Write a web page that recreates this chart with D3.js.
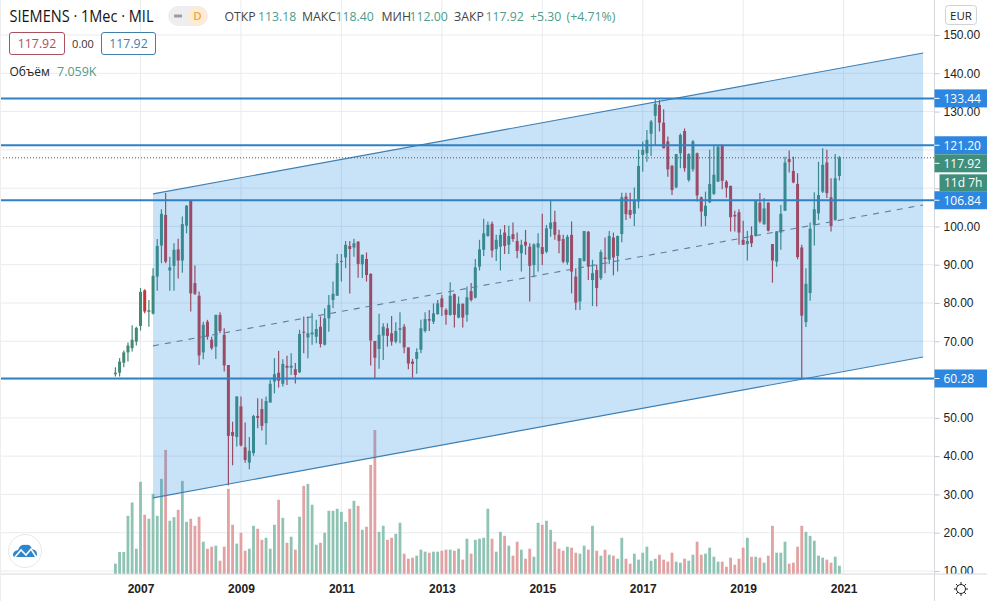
<!DOCTYPE html>
<html>
<head>
<meta charset="utf-8">
<script src="https://cdn.jsdelivr.net/npm/d3@7"></script>
<style>
  html, body { margin: 0; padding: 0; background: #fff; }
  svg { display: block; font-family: "Open Sans", sans-serif; }
</style>
</head>
<body>
<svg id="chart" width="987" height="601"></svg>
<script>
// monthly candles, Jul 2006 - Dec 2020
const opens = [
  61.4,61.8,64.4,67.1,68.2,69.9,74.0,83.3,77.7,77.2,
  86.9,95.0,103.0,88.5,89.7,94.0,91.1,100.2,106.7,85.2,
  81.9,67.1,75.1,70.4,68.6,76.9,71.7,63.8,46.3,45.0,
  53.0,42.3,38.3,40.8,50.5,52.3,48.6,54.0,59.5,61.8,
  58.9,63.6,63.1,62.7,61.9,72.5,71.0,71.8,71.2,73.8,
  69.1,76.0,80.8,81.9,90.7,91.9,94.9,94.5,96.0,90.1,
  91.5,87.6,70.1,68.0,71.5,73.4,72.1,69.9,73.0,73.8,
  68.4,64.7,65.4,67.8,72.7,75.8,75.1,77.1,81.2,78.2,
  76.9,82.3,76.2,79.8,76.9,83.1,81.4,89.5,93.9,97.5,
  100.7,94.1,94.7,98.4,95.2,98.0,96.2,93.0,96.0,94.7,
  89.9,94.5,94.6,93.4,99.4,101.2,97.8,96.7,90.6,97.8,
  86.9,80.4,91.0,98.6,86.0,88.6,86.5,91.9,91.3,97.1,
  92.3,98.0,107.8,104.3,103.3,106.5,118.7,119.1,124.2,128.9,
  131.7,127.1,122.2,115.8,110.2,119.1,124.9,112.1,114.9,119.1,
  107.6,102.7,106.3,108.5,111.7,121.3,111.7,110.6,103.0,103.7,
  96.5,95.4,97.7,97.5,106.2,100.6,106.2,95.4,90.8,98.4,
  104.1,117.6,114.5,111.1,94.5,75.0,82.6,100.4,103.4,109.1,
  116.7,107.6,101.7,113.18
];
const closes = [
  61.8,64.7,67.1,68.9,70.4,73.5,82.9,77.8,78.1,87.1,
  94.9,103.3,90.8,89.3,93.9,91.1,100.6,105.4,82.5,82.4,
  66.3,74.3,71.2,68.2,76.9,72.7,63.7,45.3,45.3,55.6,
  42.8,39.0,41.4,50.5,50.0,47.9,54.4,58.9,61.4,59.7,
  64.1,63.1,63.6,61.2,71.9,72.3,72.1,72.3,73.2,69.3,
  76.0,79.5,82.4,90.4,91.0,95.2,94.1,95.6,90.2,92.6,
  87.3,70.2,65.7,71.7,73.8,71.4,69.9,72.7,73.4,68.4,
  64.2,64.1,67.2,73.4,75.8,75.4,77.3,79.9,78.9,76.9,
  81.9,76.9,79.8,76.2,81.5,80.8,89.3,94.0,98.2,100.4,
  93.7,96.5,97.8,94.9,97.5,96.7,93.6,95.2,95.0,89.7,
  95.3,95.6,92.8,99.5,101.0,97.8,96.2,90.8,97.3,88.2,
  80.1,91.7,98.8,89.5,87.8,83.9,93.3,91.5,97.5,91.9,
  97.5,107.6,103.2,103.0,106.7,115.8,120.0,122.6,127.4,132.0,
  127.1,120.4,114.9,109.5,118.9,123.9,115.2,118.9,122.2,108.1,
  103.9,105.4,111.1,113.5,120.8,111.9,110.1,102.4,102.6,98.4,
  95.2,96.2,95.6,106.7,101.3,104.7,98.9,91.1,98.7,103.3,
  116.7,116.8,111.5,92.0,76.7,85.0,99.4,104.5,108.2,116.1,
  108.7,100.1,112.6,117.92
];
const highs = [
  63.2,65.6,67.6,69.7,74.2,73.8,83.9,83.6,80.8,89.1,
  96.7,104.5,108.7,92.1,95.6,96.8,102.6,105.6,106.7,89.8,
  83.0,75.1,75.6,71.2,76.9,77.6,73.4,63.8,49.0,55.6,
  55.6,48.8,45.0,50.8,55.1,55.0,55.6,59.9,65.6,67.5,
  65.3,66.2,66.9,64.3,73.0,76.5,76.5,77.3,75.6,76.5,
  78.6,82.1,85.6,92.8,92.8,96.2,96.2,96.8,96.2,92.6,
  93.2,87.8,70.1,77.2,74.7,74.7,76.6,75.0,77.6,74.5,
  68.4,65.4,68.2,75.6,77.6,78.2,79.9,80.8,82.1,78.6,
  85.4,82.5,81.7,79.9,84.3,85.2,91.5,96.5,102.0,101.3,
  101.3,97.8,99.3,100.4,100.2,101.0,98.4,96.5,99.1,95.6,
  95.6,98.2,103.3,100.4,106.9,104.1,99.1,97.8,97.8,101.3,
  89.1,91.7,98.8,98.8,91.3,90.0,93.9,97.1,98.8,98.4,
  97.6,108.8,108.8,108.8,110.2,120.0,122.2,125.2,127.8,133.2,
  133.0,130.6,123.5,116.1,118.9,124.3,125.6,119.1,122.6,119.3,
  107.8,109.1,120.0,121.3,121.3,121.3,112.1,110.6,104.1,104.5,
  101.5,98.9,100.0,106.9,108.7,107.4,106.3,95.4,98.8,105.6,
  118.2,119.8,118.2,113.9,95.2,89.1,101.0,108.9,116.9,120.4,
  120.0,112.6,118.9,118.40
];
const lows = [
  60.8,60.8,63.2,64.7,67.3,68.9,72.8,77.3,73.8,77.0,
  83.2,90.4,90.4,83.2,83.2,86.4,87.9,98.2,77.8,82.1,
  63.8,65.3,70.4,67.8,65.4,72.1,62.1,32.3,37.6,42.5,
  42.5,38.3,36.6,40.1,47.3,46.7,43.0,54.0,56.4,57.9,
  58.2,58.6,61.2,59.0,61.7,66.9,65.6,69.1,69.5,68.4,
  68.9,72.5,78.6,81.9,85.6,89.1,82.5,92.1,86.6,86.5,
  85.6,63.7,60.4,62.8,65.1,68.6,68.9,69.5,69.5,66.9,
  62.7,60.5,61.5,66.9,72.3,72.7,74.5,76.9,76.6,74.3,
  76.7,73.6,76.0,73.6,75.1,80.4,81.2,88.5,92.3,97.3,
  91.9,91.0,88.5,92.8,92.8,96.0,91.7,88.2,92.6,80.4,
  86.7,88.2,89.9,93.0,97.3,96.5,93.0,90.4,90.0,82.5,
  78.2,78.2,90.8,86.0,79.2,79.1,86.0,87.8,90.2,87.2,
  88.2,95.9,101.7,102.1,100.1,104.7,114.3,116.9,118.4,121.3,
  124.8,120.4,113.0,108.2,110.0,115.2,114.3,111.7,114.3,106.5,
  100.0,100.1,106.1,108.2,111.7,109.7,107.5,98.7,98.7,95.2,
  95.2,91.1,94.6,97.4,100.8,100.4,98.7,85.3,89.5,93.9,
  104.1,114.1,111.3,91.4,60.4,73.7,80.6,95.0,101.7,108.7,
  107.4,98.7,101.5,112.00
];
// volume in thousands
const volumes = [
  8.8,18.7,18.7,49.5,60.8,21.5,78.4,50.4,47,68.2,
  49.5,80.9,105.6,45.3,48.4,54.6,79.2,44.4,47,41,
  48.7,27.5,21.5,23.2,24.1,11.3,23.2,72.4,41.9,25.8,
  35.1,19.8,21.5,41,38.5,29.1,30.8,21.5,41.9,63.1,
  47.8,26.6,31.7,20.7,48.7,75,76.7,58.9,24.9,26.6,
  35.1,53.8,53.8,55.5,52.9,44.4,55.5,62.3,58,37.6,
  40.2,92.8,122.5,35.9,41,29.1,30.8,34.2,43.6,17.3,
  13,13.9,15.6,20.7,19,18.1,19,19,19.8,20.7,
  20.7,19.8,21.5,12.2,30,17.3,29.1,30,30.8,55.5,
  30,19,35.9,32.5,24.1,15.6,27.5,20.7,13,21.5,
  14.7,43.6,41.9,45.3,37.6,27.5,21.5,19.8,23.2,22.4,
  18.1,17.3,24.1,20.7,41,19.8,15.6,20.7,16.4,15.6,
  13,30.8,13,8.8,17.3,12.2,18.1,23.2,11.3,13,
  16.4,12.2,10.5,18.1,10.5,9.6,13,11.3,16.4,27.5,
  16.4,17.3,22.4,14.7,10.5,10.5,6.2,13.9,7.9,13,
  22.4,30.8,14.7,14.7,13.9,9.6,15.6,41,18.1,18.1,
  27.5,8.8,9.6,23.2,41,35.9,32.5,28.3,15.6,13.9,
  12.2,9.6,14.7,7.059
];

const yearLabels = ["2007", "2009", "2011", "2013", "2015", "2017", "2019", "2021"];
const yearIndex = [6, 30, 54, 78, 102, 126, 150, 174]; // january of each year in candles
const priceTicks = [10, 20, 30, 40, 50, 60, 70, 80, 90, 100, 110, 120, 130, 140, 150];
const hiddenTickLabels = [60, 110, 120]; // sit under the price boxes
const levels = [133.44, 121.20, 106.84, 60.28];
const lastPrice = 117.92;

// parallel channel, drawn from candle 9 to candle 193
const channelIndex = [9, 193];
const channelUpper = [108.5, 145.3];
const channelMiddle = [68.8, 105.6];
const channelLower = [29.1, 65.9];

// header legend: text, colour, left edge
const legendText = ["ОТКР", "113.18", "МАКС", "118.40", "МИН", "112.00", "ЗАКР", "117.92", "+5.30", "(+4.71%)"];
const legendLeft = [224.5, 258, 302, 335.5, 381.5, 409.5, 454, 485.5, 530, 566.5];

const width = 987;
const height = 601;
const paneRight = 934.5;
const paneBottom = 574;

const green = "#418974";
const red = "#c4363c";
const volGreen = "#8fc3b4";
const volRed = "#e2a2a3";
const blue = "#2f80c4";
const textGreen = "#4f9c88";
const boxBlue = "#2d86e0";
const boxGreen = "#3f8f7c";

const x = d3.scaleLinear().domain([0, 174]).range([115.4, 843.6]);
const y = d3.scaleLinear().domain([10, 150]).range([571, 35]);
const yVol = d3.scaleLinear().domain([0, 122.5]).range([paneBottom, 430]);

const svg = d3.select("#chart");
const defs = svg.append("defs");
defs.append("clipPath").attr("id", "axisClip")
  .append("rect").attr("x", paneRight).attr("y", 0).attr("width", 60).attr("height", paneBottom);

// gridlines
const grid = svg.append("g");
grid.selectAll(".h").data(priceTicks).enter().append("line")
  .attr("x1", 0).attr("x2", paneRight)
  .attr("y1", d => y(d)).attr("y2", d => y(d))
  .attr("stroke", "#e9ebee");
grid.selectAll(".v").data(yearIndex).enter().append("line")
  .attr("x1", d => x(d)).attr("x2", d => x(d))
  .attr("y1", 0).attr("y2", paneBottom)
  .attr("stroke", "#e9ebee");

// volume
svg.append("g").selectAll("rect").data(volumes).enter().append("rect")
  .attr("x", (d, i) => x(i) - 1.4)
  .attr("width", 2.8)
  .attr("y", d => yVol(d))
  .attr("height", d => paneBottom - yVol(d))
  .attr("fill", (d, i) => closes[i] >= opens[i] ? volGreen : volRed);

// candles
const candle = svg.append("g").selectAll("g").data(opens).enter().append("g");
candle.append("line")
  .attr("x1", (d, i) => x(i)).attr("x2", (d, i) => x(i))
  .attr("y1", (d, i) => y(highs[i])).attr("y2", (d, i) => y(lows[i]))
  .attr("stroke", (d, i) => closes[i] >= opens[i] ? green : red)
  .attr("stroke-width", 1.2);
candle.append("rect")
  .attr("x", (d, i) => x(i) - 1.5)
  .attr("width", 3)
  .attr("y", (d, i) => y(Math.max(opens[i], closes[i])))
  .attr("height", (d, i) => Math.max(1, Math.abs(y(opens[i]) - y(closes[i]))))
  .attr("fill", (d, i) => closes[i] >= opens[i] ? green : red);

// channel
const channelLine = d3.line().x((d, i) => x(channelIndex[i])).y(d => y(d));
const channelArea = d3.area()
  .x((d, i) => x(channelIndex[i]))
  .y0((d, i) => y(channelLower[i]))
  .y1(d => y(d));
svg.append("path").attr("d", channelArea(channelUpper))
  .attr("fill", "#238be3").attr("fill-opacity", 0.25);
svg.append("path").attr("d", channelLine(channelUpper))
  .attr("fill", "none").attr("stroke", "#3c7fb4").attr("stroke-width", 1.1);
svg.append("path").attr("d", channelLine(channelLower))
  .attr("fill", "none").attr("stroke", "#3c7fb4").attr("stroke-width", 1.1);
svg.append("path").attr("d", channelLine(channelMiddle))
  .attr("fill", "none").attr("stroke", "#5d7f9b").attr("stroke-width", 1.1).attr("stroke-dasharray", "6 6");

// last price line
svg.append("line")
  .attr("x1", 0).attr("x2", paneRight)
  .attr("y1", y(lastPrice)).attr("y2", y(lastPrice))
  .attr("stroke", "#555").attr("stroke-dasharray", "1 2");

// horizontal levels
svg.append("g").selectAll("line").data(levels).enter().append("line")
  .attr("x1", 0).attr("x2", paneRight)
  .attr("y1", d => y(d)).attr("y2", d => y(d))
  .attr("stroke", blue).attr("stroke-width", 2);

// price axis, the bottom label is cut by the time axis
const yAxis = svg.append("g")
  .attr("clip-path", "url(#axisClip)")
  .append("g")
  .attr("transform", `translate(${paneRight},0)`)
  .call(d3.axisRight(y).tickValues(priceTicks)
    .tickFormat(d => hiddenTickLabels.includes(d) ? "" : d3.format(".2f")(d))
    .tickSize(5).tickPadding(4));
yAxis.select(".domain").remove();
yAxis.selectAll("line").attr("stroke", "#c4c7cc");
yAxis.selectAll("text").attr("font-size", 12).attr("fill", "#222");

// time axis
const xAxis = svg.append("g")
  .attr("transform", `translate(0,${paneBottom})`)
  .call(d3.axisBottom(x).tickValues(yearIndex).tickFormat((d, i) => yearLabels[i]).tickSize(0).tickPadding(10));
xAxis.select(".domain").remove();
xAxis.selectAll("text").attr("font-size", 12).attr("font-weight", 600).attr("fill", "#222");

svg.append("line").attr("x1", 0).attr("x2", width).attr("y1", paneBottom).attr("y2", paneBottom)
  .attr("stroke", "#d5d8dc");
svg.append("line").attr("x1", paneRight).attr("x2", paneRight).attr("y1", 0).attr("y2", height)
  .attr("stroke", "#d5d8dc");
svg.append("line").attr("x1", 0.5).attr("x2", 0.5).attr("y1", 0).attr("y2", height)
  .attr("stroke", "#eceef0");

// price labels, shift moves a box off its true price to avoid the next one
function priceBox(value, fill, shift) {
  const cy = y(value) + shift;
  const g = svg.append("g");
  g.append("rect")
    .attr("x", paneRight).attr("y", cy - 9)
    .attr("width", width - paneRight).attr("height", 18)
    .attr("fill", fill);
  g.append("line")
    .attr("x1", paneRight).attr("x2", paneRight + 5)
    .attr("y1", cy).attr("y2", cy)
    .attr("stroke", "#fff");
  g.append("text")
    .attr("x", paneRight + 9).attr("y", cy + 4.3)
    .attr("font-size", 12).attr("fill", "#fff")
    .text(d3.format(".2f")(value));
}
levels.forEach(d => priceBox(d, boxBlue, 0));
priceBox(lastPrice, boxGreen, 5.5);
svg.append("rect").attr("x", 939.5).attr("y", y(lastPrice) + 16.5).attr("width", width - 939.5).attr("height", 17).attr("fill", boxGreen);
svg.append("text").attr("x", 944).attr("y", y(lastPrice) + 29.5).attr("font-size", 12).attr("fill", "#fff").text("11d 7h");

// EUR button
svg.append("rect").attr("x", 945.5).attr("y", 5.5).attr("width", 31).attr("height", 19).attr("rx", 3)
  .attr("fill", "#fff").attr("stroke", "#cfd2d6");
svg.append("text").attr("x", 961).attr("y", 19.5).attr("text-anchor", "middle")
  .attr("font-size", 11.5).attr("fill", "#222").text("EUR");

// header
svg.append("text").attr("x", 9.5).attr("y", 21.5).attr("font-size", 16).attr("fill", "#141414")
  .attr("textLength", 144).attr("lengthAdjust", "spacingAndGlyphs").text("SIEMENS · 1Мес · MIL");
svg.append("rect").attr("x", 168).attr("y", 6).attr("width", 40).attr("height", 20).attr("rx", 10).attr("fill", "#eeeef1");
svg.append("circle").attr("cx", 197.5).attr("cy", 16).attr("r", 9.5).attr("fill", "#fdecd2");
svg.append("rect").attr("x", 174).attr("y", 14.5).attr("width", 8).attr("height", 3).attr("fill", "#9a9da3");
svg.append("text").attr("x", 197.5).attr("y", 20).attr("text-anchor", "middle").attr("font-size", 11.5).attr("font-weight", 600)
  .attr("fill", "#f0a63c").text("D");

svg.append("g").selectAll("text").data(legendText).enter().append("text")
  .attr("x", (d, i) => legendLeft[i])
  .attr("y", 21)
  .attr("font-size", 12.3)
  .attr("fill", (d, i) => i < 8 && i % 2 === 0 ? "#444" : textGreen)
  .text(d => d);

svg.append("rect").attr("x", 9.5).attr("y", 32.5).attr("width", 55).attr("height", 22).attr("rx", 2.5)
  .attr("fill", "#fff").attr("stroke", "#a8515f");
svg.append("text").attr("x", 37).attr("y", 48).attr("text-anchor", "middle").attr("font-size", 12.3).attr("fill", "#a8515f").text("117.92");
svg.append("text").attr("x", 83).attr("y", 47.5).attr("text-anchor", "middle").attr("font-size", 11).attr("fill", "#333").text("0.00");
svg.append("rect").attr("x", 101.5).attr("y", 32.5).attr("width", 54).attr("height", 22).attr("rx", 2.5)
  .attr("fill", "#fff").attr("stroke", "#3f7fa8");
svg.append("text").attr("x", 128.5).attr("y", 48).attr("text-anchor", "middle").attr("font-size", 12.3).attr("fill", "#3f7fa8").text("117.92");

svg.append("text").attr("x", 9.5).attr("y", 76).attr("font-size", 12).attr("fill", "#222").text("Объём");
svg.append("text").attr("x", 57).attr("y", 76).attr("font-size", 12.5).attr("fill", textGreen).text("7.059K");

// logo
svg.append("circle").attr("cx", 25).attr("cy", 551).attr("r", 16.5).attr("fill", "#fff").attr("stroke", "#e6e8ea");
svg.append("path")
  .attr("d", "M13 555 Q13 551 18 550 Q20 544 26 545 Q30 544 32 549 Q37 550 37 554 Q37 557 34 557 L16 557 Q13 557 13 555 Z")
  .attr("fill", "#2e86cc");
svg.append("path")
  .attr("d", "M15 557 L21 550 L26 555 L31 549 L36 557")
  .attr("fill", "none").attr("stroke", "#fff").attr("stroke-width", 1.6);

// settings icon
const sun = svg.append("g").attr("transform", "translate(961,589)");
sun.append("circle").attr("r", 4.5).attr("fill", "none").attr("stroke", "#222");
sun.selectAll("line").data(d3.range(8)).enter().append("line")
  .attr("x1", d => 4.5 * Math.cos(d * Math.PI / 4)).attr("y1", d => 4.5 * Math.sin(d * Math.PI / 4))
  .attr("x2", d => 7 * Math.cos(d * Math.PI / 4)).attr("y2", d => 7 * Math.sin(d * Math.PI / 4))
  .attr("stroke", "#222");
</script>
</body>
</html>
